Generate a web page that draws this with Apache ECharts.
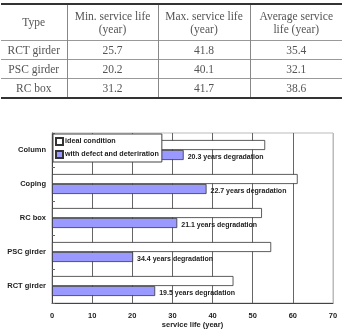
<!DOCTYPE html>
<html>
<head>
<meta charset="utf-8">
<script src="https://cdn.jsdelivr.net/npm/echarts@6/dist/echarts.min.js"></script>
<style>
  html, body { margin: 0; padding: 0; background: #fff; }
  #wrap { position: relative; width: 342px; height: 329px; overflow: hidden; }
  #chart { position: absolute; left: 0; top: 0; width: 342px; height: 329px; }
  #tbl {
    position: absolute; left: 1px; top: 3px; width: 341px;
    border-collapse: collapse; table-layout: fixed;
    font-family: "Liberation Serif", serif; font-size: 11.5px; color: #555;
    border-top: 2px solid #333; border-bottom: 2px solid #333;
  }
  #tbl td, #tbl th {
    font-weight: normal; text-align: center; padding: 0;
    border-top: 1px solid #999; border-left: 1px solid #888;
    height: 18px; line-height: 13px;
  }
  #tbl th { height: 35px; border-top: none; }
  #tbl tr > *:first-child { border-left: none; }
</style>
</head>
<body>
<div id="wrap">
  <div id="chart"></div>
  <table id="tbl"></table>
</div>
<script>
// table data
const tableHead = ['Type', 'Min. service life<br>(year)', 'Max. service life<br>(year)', 'Average service<br>life (year)'];
const tableTypes = ['RCT girder', 'PSC girder', 'RC box'];
const minLife = ['25.7', '20.2', '31.2'];
const maxLife = ['41.8', '40.1', '41.7'];
const avgLife = ['35.4', '32.1', '38.6'];

// chart data (top to bottom)
const categories = ['Column', 'Coping', 'RC box', 'PSC girder', 'RCT girder'];
const idealLife = [53.1, 61.2, 52.3, 54.6, 45.2];
const defectLife = [32.8, 38.5, 31.2, 20.2, 25.7];
const degradation = [20.3, 22.7, 21.1, 34.4, 19.5];
const seriesNames = ['ideal condition', 'with defect and deteriration'];

// build table
const colW = [66, 91, 92, 92];
let html = '<colgroup>' + colW.map(w => '<col style="width:' + w + 'px">').join('') + '</colgroup>';
html += '<tr>' + tableHead.map(h => '<th>' + h + '</th>').join('') + '</tr>';
tableTypes.forEach((t, i) => {
  html += '<tr><td>' + t + '</td><td>' + minLife[i] + '</td><td>' + maxLife[i] + '</td><td>' + avgLife[i] + '</td></tr>';
});
document.getElementById('tbl').innerHTML = html;

const chart = echarts.init(document.getElementById('chart'));
const font = '"Liberation Sans", Arial, sans-serif';

chart.setOption({
  animation: false,
  textStyle: { fontFamily: font },
  grid: {
    left: 52, right: 9, top: 133, bottom: 26,
    outerBoundsMode: 'none',
    containLabel: false,
    show: true, borderColor: '#bbb', borderWidth: 1, backgroundColor: 'transparent'
  },
  legend: {
    data: seriesNames,
    orient: 'vertical',
    left: 53, top: 134,
    itemWidth: 7, itemHeight: 7, itemGap: 4,
    padding: [3, 3, 3, 2],
    backgroundColor: '#fff',
    borderColor: '#444', borderWidth: 1,
    textStyle: { fontSize: 7.2, fontWeight: 'bold', color: '#222', padding: [0, 0, 0, -3] },
    icon: 'rect'
  },
  xAxis: {
    type: 'value',
    min: 0, max: 70, interval: 10,
    name: 'service life (year)',
    nameLocation: 'middle', nameGap: 22,
    nameMoveOverlap: false,
    nameTextStyle: { fontSize: 7.5, fontWeight: 'bold', color: '#222', verticalAlign: 'middle' },
    axisLine: { show: true, lineStyle: { color: '#444', width: 1 } },
    axisTick: { show: false },
    axisLabel: { fontSize: 7.5, fontWeight: 'bold', color: '#222', margin: 9 },
    splitLine: {
      show: true,
      lineStyle: { color: ['#666', '#666', '#666', '#666', '#666', '#666', '#666', '#bbb'], width: 1 }
    }
  },
  yAxis: {
    type: 'category',
    inverse: true,
    data: categories,
    axisLine: { show: true, lineStyle: { color: '#444', width: 1 } },
    axisTick: { show: true, inside: true, length: 3, lineStyle: { color: '#666' } },
    axisLabel: { fontSize: 7.5, fontWeight: 'bold', color: '#222', margin: 6 }
  },
  series: [
    {
      name: seriesNames[0],
      type: 'bar',
      data: idealLife,
      barWidth: 10,
      barGap: '0%',
      itemStyle: { color: '#fff', borderColor: '#333', borderWidth: 0.8 }
    },
    {
      name: seriesNames[1],
      type: 'bar',
      data: defectLife,
      barWidth: 10,
      barGap: '0%',
      itemStyle: { color: '#9999ff', borderColor: '#333', borderWidth: 0.8 },
      label: {
        show: true,
        position: 'right',
        distance: 4,
        offset: [0, 2],
        fontSize: 7,
        fontWeight: 'bold',
        color: '#222',
        formatter: p => degradation[p.dataIndex] + ' years degradation'
      }
    }
  ]
});
</script>
</body>
</html>
